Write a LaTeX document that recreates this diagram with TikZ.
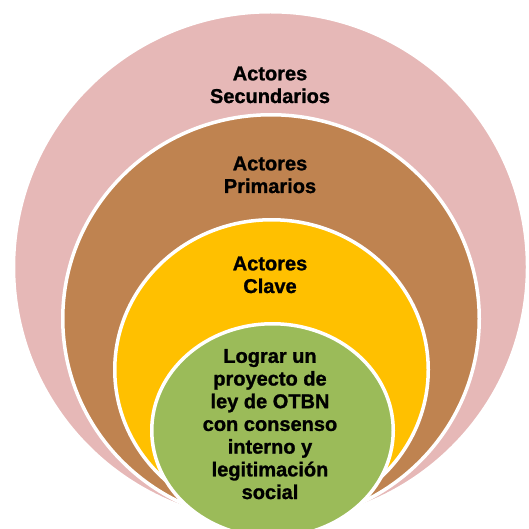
\documentclass[tikz,border=0pt]{standalone}
\usepackage{fontspec}
\setmainfont{Liberation Sans}[BoldFeatures={FakeBold=1.2}]
\definecolor{pinkc}{HTML}{E6B8B7}
\definecolor{brownc}{HTML}{BF8350}
\definecolor{yellowc}{HTML}{FFC000}
\definecolor{greenc}{HTML}{9BBB59}
\begin{document}
\begin{tikzpicture}[x=1pt,y=-1pt,
  ring/.style={draw=white,line width=3.5pt},
  lbl/.style={font=\bfseries\fontsize{20}{22.7}\selectfont,align=center,inner sep=0pt,text=black}]
\useasboundingbox (0,0) rectangle (528,529);
\clip (0,0) rectangle (528,529);
\path[ring,fill=pinkc] (270.5,267) ellipse [x radius=257, y radius=255.25];
\path[ring,fill=brownc] (271,318.75) ellipse [x radius=208.25, y radius=204];
\path[ring,fill=yellowc] (271.5,369.75) ellipse [x radius=156.75, y radius=150];
\path[ring,fill=greenc] (272.5,430.5) ellipse [x radius=120.75, y radius=106.75];
\node[lbl,anchor=base] (sec) at (270,103) {Actores\\Secundarios};
\node[lbl,anchor=base] (pri) at (270,193) {Actores\\Primarios};
\node[lbl,anchor=base] (cla) at (270,293) {Actores\\Clave};
\node[lbl,anchor=base] (goal) at (270,499) {Lograr un\\proyecto de\\ley de OTBN\\con consenso\\interno y\\legitimación\\social};
\end{tikzpicture}
\end{document}
